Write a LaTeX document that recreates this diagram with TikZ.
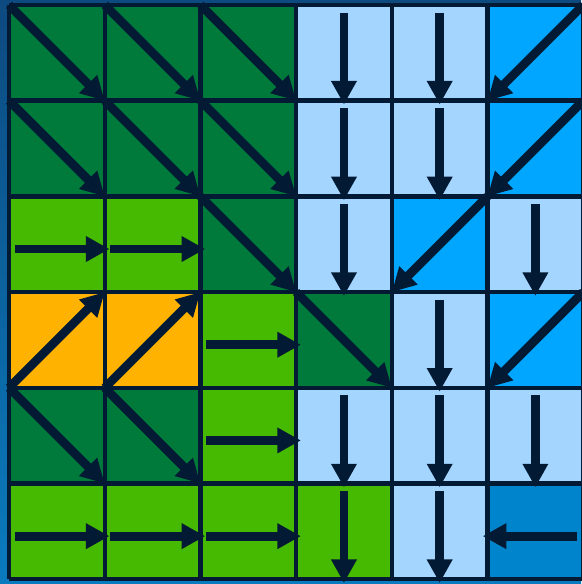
\documentclass[tikz,border=0pt]{standalone}
\definecolor{darkgreen}{HTML}{007A3A}
\definecolor{lightgreen}{HTML}{46BA00}
\definecolor{amber}{HTML}{FFB300}
\definecolor{paleblue}{HTML}{A3D5FF}
\definecolor{skyblue}{HTML}{00A6FF}
\definecolor{midblue}{HTML}{0084CC}
\definecolor{navy}{HTML}{021A33}
\definecolor{bgtop}{HTML}{0D4A80}
\definecolor{bgbottom}{HTML}{0A7BBE}
\usepackage{tikz}
\usetikzlibrary{arrows.meta}

\tikzset{
  flow/.style={navy, line width=2.6pt, -{Triangle[length=7pt, width=7.2pt]}},
  cellgrid/.style={navy, line width=1.3pt}
}

\begin{document}
\begin{tikzpicture}
  % background and frame
  \shade[top color=bgtop, bottom color=bgbottom] (-0.094,-0.05) rectangle (5.977,6.052);
  \useasboundingbox (-0.094,-0.05) rectangle (5.977,6.052);

  % cell colours, row by row from the top
  \foreach \row [count=\r from 0] in {
      {darkgreen,darkgreen,darkgreen,paleblue,paleblue,skyblue},
      {darkgreen,darkgreen,darkgreen,paleblue,paleblue,skyblue},
      {lightgreen,lightgreen,darkgreen,paleblue,skyblue,paleblue},
      {amber,amber,lightgreen,darkgreen,paleblue,skyblue},
      {darkgreen,darkgreen,lightgreen,paleblue,paleblue,paleblue},
      {lightgreen,lightgreen,lightgreen,lightgreen,paleblue,midblue}} {
    \foreach \clr [count=\c from 0] in \row
      \fill[\clr] (\c,5-\r) rectangle ++(1,1);
  }

  \draw[cellgrid] (0,0) grid (6,6);

  % diagonal flow: corner to corner
  \foreach \c/\r/\dx/\dy in {0/0/1/-1, 1/0/1/-1, 2/0/1/-1, 5/0/-1/-1,
      0/1/1/-1, 1/1/1/-1, 2/1/1/-1, 5/1/-1/-1,
      2/2/1/-1, 4/2/-1/-1,
      0/3/1/1, 1/3/1/1, 3/3/1/-1, 5/3/-1/-1,
      0/4/1/-1, 1/4/1/-1}
    \draw[flow] (\c+0.5-0.5*\dx, 5.5-\r-0.5*\dy) -- (\c+0.5+0.5*\dx, 5.5-\r+0.5*\dy);

  % horizontal flow
  \foreach \c/\r/\dx in {0/2/1, 1/2/1, 2/3/1, 2/4/1, 0/5/1, 1/5/1, 2/5/1, 5/5/-1}
    \draw[flow] (\c+0.5-0.44*\dx, 5.45-\r) -- (\c+0.5+0.55*\dx, 5.45-\r);

  % downward flow
  \foreach \c/\r in {3/0, 4/0, 3/1, 4/1, 3/2, 5/2, 4/3, 3/4, 4/4, 5/4, 3/5, 4/5}
    \draw[flow] (\c+0.5, 5.92-\r) -- (\c+0.5, 4.96-\r);
\end{tikzpicture}
\end{document}
